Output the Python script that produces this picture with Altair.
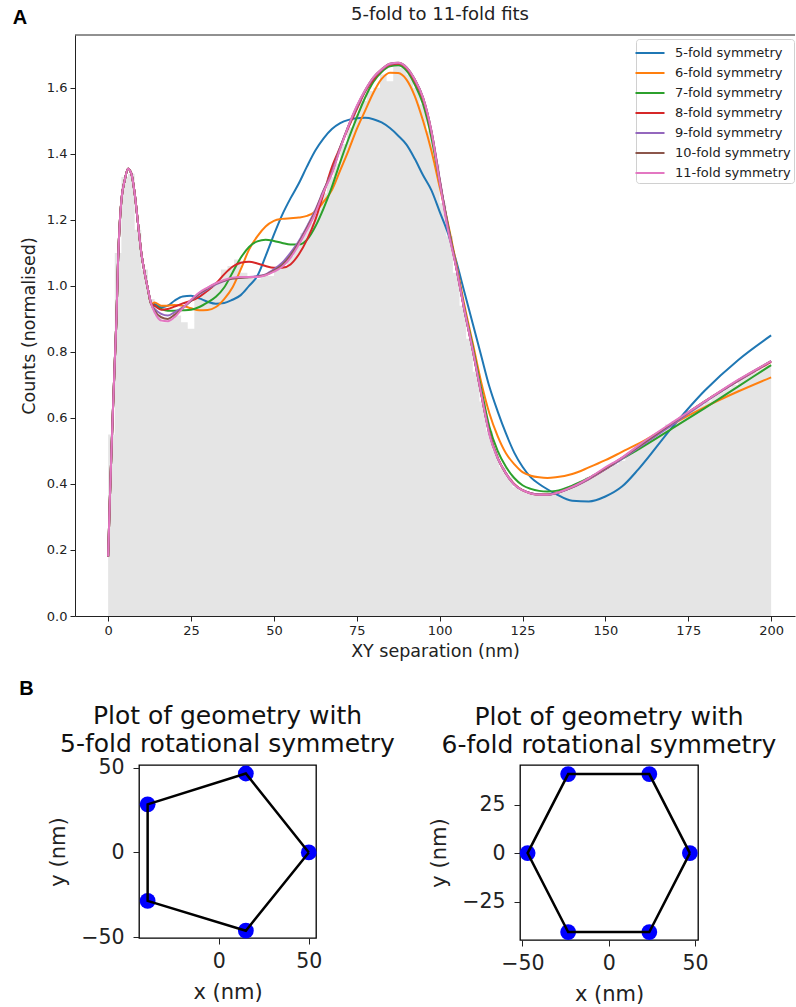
import altair as alt
import pandas as pd

FONT = "DejaVu Sans"
INK = "#222222"

# ---------------- Panel A data ----------------
series_names = ["5-fold symmetry", "6-fold symmetry", "7-fold symmetry", "8-fold symmetry",
                "9-fold symmetry", "10-fold symmetry", "11-fold symmetry"]
series_colors = ["#1f77b4", "#ff7f0e", "#2ca02c", "#d62728", "#9467bd", "#8c564b", "#e377c2"]

x_start = [0, 0.5, 1, 1.5, 2, 2.5, 3, 3.5, 4, 5, 6, 7, 8, 9, 10, 11, 12, 13]
common_start = [0.18, 0.35, 0.50, 0.64, 0.77, 0.90, 1.08, 1.19, 1.26, 1.32, 1.355, 1.34,
                1.28, 1.19, 1.10, 1.04, 0.99, 0.945]
x_tail = [14, 16, 18, 20, 22.5, 25, 27.5, 30, 32.5, 35, 37.5, 40, 42.5, 45, 47.5, 50,
          52.5, 55, 57.5, 60, 62.5, 65, 67.5, 70, 72.5, 75, 77.5, 80, 82.5, 85, 87.5, 90,
          92.5, 95, 97.5, 100, 102.5, 105, 107.5, 110, 112.5, 115, 117.5, 120, 122.5, 125,
          127.5, 130, 132.5, 135, 140, 145, 150, 155, 160, 170, 180, 190, 200]

tail_5 = [0.945, 0.935, 0.94, 0.955, 0.968, 0.970, 0.962, 0.952, 0.946, 0.948, 0.958, 0.972,
          1.0, 1.03, 1.09, 1.155, 1.215, 1.265, 1.31, 1.362, 1.41, 1.447, 1.475, 1.493, 1.503,
          1.508, 1.509, 1.505, 1.495, 1.478, 1.455, 1.428, 1.385, 1.335, 1.29, 1.225, 1.16,
          1.075, 0.98, 0.885, 0.79, 0.695, 0.62, 0.553, 0.495, 0.452, 0.42, 0.40, 0.384,
          0.37, 0.349, 0.347, 0.362, 0.392, 0.445, 0.57, 0.683, 0.775, 0.85]
tail_6 = [0.95, 0.94, 0.94, 0.942, 0.94, 0.932, 0.926, 0.927, 0.936, 0.96, 0.995, 1.05,
          1.11, 1.15, 1.18, 1.197, 1.203, 1.205, 1.207, 1.212, 1.225, 1.255, 1.29, 1.35,
          1.41, 1.475, 1.53, 1.585, 1.627, 1.646, 1.645, 1.625, 1.575, 1.50, 1.41, 1.30,
          1.19, 1.068, 0.94, 0.826, 0.71, 0.614, 0.545, 0.493, 0.46, 0.436, 0.425, 0.42,
          0.418, 0.42, 0.43, 0.45, 0.472, 0.497, 0.522, 0.58, 0.633, 0.68, 0.723]
tail_7 = [0.94, 0.93, 0.925, 0.925, 0.926, 0.928, 0.936, 0.95, 0.967, 0.995, 1.04, 1.085,
          1.118, 1.135, 1.14, 1.136, 1.13, 1.125, 1.125, 1.14, 1.18, 1.235, 1.30, 1.375,
          1.445, 1.51, 1.57, 1.618, 1.648, 1.665, 1.668, 1.652, 1.61, 1.55, 1.45, 1.315,
          1.185, 1.06, 0.93, 0.815, 0.69, 0.573, 0.50, 0.452, 0.418, 0.396, 0.385, 0.379,
          0.377, 0.379, 0.395, 0.418, 0.446, 0.476, 0.505, 0.567, 0.63, 0.695, 0.76]
tail_8 = [0.94, 0.928, 0.93, 0.937, 0.947, 0.955, 0.967, 0.985, 1.007, 1.035, 1.058, 1.07,
          1.073, 1.068, 1.06, 1.055, 1.055, 1.065, 1.095, 1.14, 1.20, 1.28, 1.36, 1.42,
          1.48, 1.535, 1.588, 1.625, 1.654, 1.67, 1.673, 1.66, 1.62, 1.565, 1.465, 1.32,
          1.18, 1.058, 0.925, 0.805, 0.675, 0.555, 0.48, 0.432, 0.40, 0.381, 0.372, 0.368,
          0.368, 0.372, 0.39, 0.415, 0.445, 0.478, 0.512, 0.58, 0.65, 0.712, 0.77]
tail_9 = [0.93, 0.915, 0.91, 0.92, 0.935, 0.955, 0.975, 0.99, 1.005, 1.015, 1.022, 1.025,
          1.027, 1.03, 1.035, 1.05, 1.07, 1.10, 1.135, 1.18, 1.23, 1.29, 1.345, 1.42,
          1.485, 1.54, 1.59, 1.63, 1.655, 1.672, 1.675, 1.662, 1.625, 1.57, 1.47, 1.325,
          1.18, 1.058, 0.925, 0.805, 0.675, 0.553, 0.478, 0.432, 0.398, 0.381, 0.372, 0.368,
          0.367, 0.372, 0.39, 0.415, 0.445, 0.476, 0.51, 0.578, 0.648, 0.712, 0.772]
tail_10 = [0.925, 0.905, 0.90, 0.912, 0.932, 0.955, 0.978, 0.993, 1.007, 1.016, 1.022, 1.025,
           1.026, 1.028, 1.033, 1.046, 1.063, 1.092, 1.13, 1.175, 1.225, 1.288, 1.343, 1.418,
           1.485, 1.543, 1.592, 1.631, 1.656, 1.673, 1.676, 1.662, 1.625, 1.57, 1.47, 1.32,
           1.175, 1.056, 0.925, 0.805, 0.675, 0.553, 0.478, 0.432, 0.398, 0.381, 0.371, 0.367,
           0.367, 0.372, 0.391, 0.417, 0.447, 0.479, 0.514, 0.583, 0.65, 0.714, 0.772]
tail_11 = [0.92, 0.895, 0.893, 0.905, 0.932, 0.958, 0.98, 0.995, 1.008, 1.018, 1.025, 1.027,
           1.027, 1.027, 1.032, 1.043, 1.058, 1.085, 1.125, 1.17, 1.22, 1.285, 1.34, 1.415,
           1.485, 1.545, 1.593, 1.632, 1.656, 1.673, 1.676, 1.662, 1.625, 1.57, 1.47, 1.315,
           1.17, 1.055, 0.925, 0.805, 0.675, 0.55, 0.478, 0.432, 0.398, 0.381, 0.371, 0.367,
           0.367, 0.372, 0.391, 0.418, 0.45, 0.48, 0.517, 0.585, 0.65, 0.715, 0.772]

tails = [tail_5, tail_6, tail_7, tail_8, tail_9, tail_10, tail_11]

# normalised histogram, 2 nm bins starting at 0
hist_bin_width = 2
hist_vals = [0.55, 1.10, 1.33, 1.34, 1.17, 1.05, 0.96, 0.91, 0.89, 0.90,
             0.91, 0.89, 0.87, 0.96, 0.98, 1.00, 1.01, 1.05, 1.06, 1.08,
             1.04, 1.03, 1.02, 1.03, 1.03, 1.05, 1.06, 1.09, 1.12, 1.16,
             1.19, 1.23, 1.28, 1.33, 1.37, 1.43, 1.48, 1.52, 1.56, 1.59,
             1.60, 1.64, 1.62, 1.67, 1.66, 1.64, 1.60, 1.55, 1.47, 1.37,
             1.25, 1.15, 1.04, 0.94, 0.84, 0.74, 0.65, 0.56, 0.50, 0.45,
             0.42, 0.39, 0.38, 0.37, 0.37, 0.37, 0.37, 0.38, 0.38, 0.39,
             0.40, 0.41, 0.42, 0.43, 0.44, 0.45, 0.46, 0.47, 0.49, 0.50,
             0.52, 0.53, 0.55, 0.56, 0.58, 0.59, 0.60, 0.61, 0.63, 0.64,
             0.65, 0.67, 0.68, 0.69, 0.70, 0.72, 0.73, 0.74, 0.75, 0.76]

x_ticks_a = [0, 25, 50, 75, 100, 125, 150, 175, 200]
y_ticks_a = [0.0, 0.2, 0.4, 0.6, 0.8, 1.0, 1.2, 1.4, 1.6]

title_a = "5-fold to 11-fold fits"
title_b1 = ["Plot of geometry with", "5-fold rotational symmetry"]
title_b2 = ["Plot of geometry with", "6-fold rotational symmetry"]

# ---------------- Panel B data ----------------
pent_x = [50.0, 15.0, -39.6, -39.6, 15.0]
pent_y = [0.0, 46.6, 28.4, -28.6, -46.2]
hex_x = [47.0, 23.5, -23.5, -47.0, -23.5, 23.5]
hex_y = [0.0, 40.7, 40.7, 0.0, -40.7, -40.7]

# ---------------- tables ----------------
fit_x = x_start + x_tail
rows = []
for name, tail in zip(series_names, tails):
    for xv, yv in zip(fit_x, common_start + tail):
        rows.append({"series": name, "x": xv, "y": yv})
fit_df = pd.DataFrame(rows)

hist_df = pd.DataFrame({
    "x": [i * hist_bin_width for i in range(len(hist_vals))] + [len(hist_vals) * hist_bin_width],
    "y": hist_vals + [hist_vals[-1]],
})
one = pd.DataFrame({"k": [0]})


def text_layer(txt, x, y, size, weight="normal", font=FONT, angle=0, color=INK):
    return alt.Chart(one).mark_text(font=font, fontWeight=weight, fontSize=size, angle=angle,
                                    align="center", baseline="middle", color=color).encode(
        x=alt.value(x), y=alt.value(y), text=alt.value(txt))


def ghost(**enc):
    # invisible rule used only to pin the layout bounds of a panel
    return alt.Chart(one).mark_rule(opacity=0).encode(**{k: alt.value(v) for k, v in enc.items()})


def spacer():
    # empty 1-px column: puts every row's first cell at the same origin so the rows
    # can be laid out independently
    return ghost(x=0, y=0, y2=1).properties(width=1, height=1,
                                            view=alt.ViewBackground(stroke="transparent"))


# ---------------- Panel A chart ----------------
W_A, H_A = 720, 581
xs_a = alt.Scale(domain=[-10, 207.2], nice=False, zero=False)
ys_a = alt.Scale(domain=[0, 1.76], nice=False, zero=False)
col_scale = alt.Scale(domain=series_names, range=series_colors)

legend_a = alt.Legend(
    title=None, orient="none", legendX=636, legendY=4,
    symbolType="M-1.5,0L1.5,0", symbolSize=374, symbolStrokeWidth=2,
    labelFont=FONT, labelFontSize=13, labelColor=INK, labelOffset=14,
    fillColor="white", strokeColor="#d0d0d0", cornerRadius=3, padding=3, rowPadding=2,
)

hist = alt.Chart(hist_df).mark_area(interpolate="step-after", color="#e5e5e5").encode(
    x=alt.X("x:Q", scale=xs_a, axis=alt.Axis(
        values=x_ticks_a, title="XY separation (nm)", titleFontSize=17.5,
        labelFontSize=13, tickSize=5, labelPadding=3, titlePadding=5, zindex=1)),
    y=alt.Y("y:Q", scale=ys_a, axis=alt.Axis(
        values=y_ticks_a, format=".1f", title="Counts (normalised)", titleFontSize=17.5,
        labelFontSize=13, tickSize=5, labelPadding=3, titlePadding=8, zindex=1)),
)

line_layers = []
for name in series_names:
    line_layers.append(
        alt.Chart(fit_df).transform_filter(alt.datum.series == name)
        .mark_line(interpolate="monotone", strokeWidth=2, clip=True)
        .encode(
            x=alt.X("x:Q", scale=xs_a),
            y=alt.Y("y:Q", scale=ys_a),
            color=alt.Color("series:N", scale=col_scale, legend=legend_a),
        )
    )

# top spine of the axes box (the right spine falls outside the figure in the reference)
top_spine = alt.Chart(one).mark_rule(color=INK, strokeWidth=1).encode(
    x=alt.value(0), x2=alt.value(W_A), y=alt.value(0))

panel_a = alt.layer(
    hist, *line_layers, top_spine,
    text_layer(title_a, 365, -20, 18),
    text_layer("A", -55, -17, 20, weight="bold", font="Liberation Sans", color="black"),
    ghost(x=-74, y=-35, y2=633),
).properties(width=W_A, height=H_A, view=alt.ViewBackground(stroke="transparent"))


# ---------------- Panel B charts ----------------
def geometry_chart(px, py, xdom, ydom, xvals, yvals, w, h, extra_layers):
    pts = pd.DataFrame({"x": px, "y": py, "i": list(range(len(px)))})
    loop = pd.DataFrame({"x": px + [px[0]], "y": py + [py[0]], "i": list(range(len(px) + 1))})
    xsc = alt.Scale(domain=xdom, nice=False, zero=False)
    ysc = alt.Scale(domain=ydom, nice=False, zero=False)
    xax = alt.Axis(values=xvals, title="x (nm)", titleFontSize=21, labelFontSize=20.5,
                   tickSize=6, labelPadding=7, titlePadding=10, domain=False, format="d")
    yax = alt.Axis(values=yvals, title="y (nm)", titleFontSize=21, labelFontSize=20.5,
                   tickSize=6, labelPadding=9, titlePadding=12, domain=False, format="d")
    dots = alt.Chart(pts).mark_point(filled=True, size=250, color="#0000ff", opacity=1).encode(
        x=alt.X("x:Q", scale=xsc, axis=xax), y=alt.Y("y:Q", scale=ysc, axis=yax))
    edge = alt.Chart(loop).mark_line(color="black", strokeWidth=2.5).encode(
        x=alt.X("x:Q", scale=xsc), y=alt.Y("y:Q", scale=ysc), order="i:Q")
    return alt.layer(dots, edge, *extra_layers).properties(
        width=w, height=h,
        view=alt.ViewBackground(stroke="black", strokeWidth=1.3),
    )


panel_b1 = geometry_chart(
    pent_x, pent_y, [-44.4, 54.0], [-50.5, 51.6], [0, 50], [-50, 0, 50], 177, 173,
    [text_layer(title_b1[0], 88.5, -49, 25, color="#111111"),
     text_layer(title_b1[1], 88.5, -21, 25, color="#111111"),
     text_layer("B", -112.5, -76, 20, weight="bold", font="Liberation Sans", color="black"),
     ghost(x=-137, x2=267, y=-94)])
panel_b2 = geometry_chart(
    hex_x, hex_y, [-51.4, 51.7], [-44.8, 45.4], [-50, 0, 50], [-25, 0, 25], 178, 175,
    [text_layer(title_b2[0], 89, -48, 25, color="#111111"),
     text_layer(title_b2[1], 89, -20, 25, color="#111111"),
     ghost(x=-112, y=-93, y2=-60)])

top_row = alt.hconcat(spacer(), panel_a, spacing=0)
bottom_row = alt.hconcat(spacer(), panel_b1, panel_b2, spacing=0)

chart = alt.vconcat(top_row, bottom_row, spacing=2).properties(
    padding={"left": 0, "top": 0, "right": 0, "bottom": 0},
    background="white",
).configure_view(strokeWidth=0).configure_axis(
    labelFont=FONT, titleFont=FONT, labelColor=INK, titleColor=INK,
    domainColor=INK, tickColor=INK, titleFontWeight="normal", grid=False,
)

chart.save("out.html", embed_options={"renderer": "svg", "actions": False})
